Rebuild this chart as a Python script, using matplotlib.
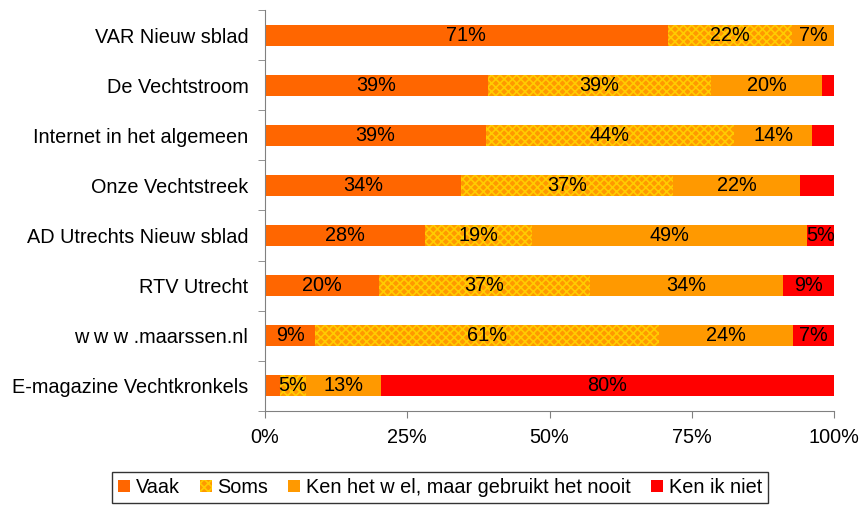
import matplotlib.pyplot as plt
import numpy as np

plt.rcParams['font.family'] = ['Liberation Sans', 'DejaVu Sans']
plt.rcParams['hatch.linewidth'] = 1.2

categories = [
    'VAR Nieuw sblad', 'De Vechtstroom', 'Internet in het algemeen',
    'Onze Vechtstreek', 'AD Utrechts Nieuw sblad', 'RTV Utrecht',
    'w w w .maarssen.nl', 'E-magazine Vechtkronkels'
]

vaak = [70.8, 39.2, 38.8, 34.4, 28.1, 20.0, 8.8, 2.6]
soms = [21.8, 39.2, 43.6, 37.3, 18.8, 37.1, 60.4, 4.6]
kennooit = [7.4, 19.5, 13.8, 22.3, 48.4, 33.9, 23.6, 13.2]
kenniet = [0.0, 2.1, 3.8, 6.0, 4.7, 9.0, 7.2, 79.6]

vaak_lbl = ['71%', '39%', '39%', '34%', '28%', '20%', '9%', '']
soms_lbl = ['22%', '39%', '44%', '37%', '19%', '37%', '61%', '5%']
kennooit_lbl = ['7%', '20%', '14%', '22%', '49%', '34%', '24%', '13%']
kenniet_lbl = ['', '', '', '', '5%', '9%', '7%', '80%']

series = [
    ('Vaak', vaak, vaak_lbl, dict(color='#FF6600')),
    ('Soms', soms, soms_lbl, dict(facecolor='#FF9900', edgecolor='#FFCC00', hatch='xxxx', linewidth=0)),
    ('Ken het w el, maar gebruikt het nooit', kennooit, kennooit_lbl, dict(color='#FF9900')),
    ('Ken ik niet', kenniet, kenniet_lbl, dict(color='#FF0000')),
]

fs = 14.3

fig = plt.figure(figsize=(8.62, 5.16), dpi=100)
ax = fig.add_axes([265 / 862, 1 - 411 / 516, 569 / 862, 401 / 516])

y = np.arange(len(categories))
left = np.zeros(len(categories))
for name, vals, lbls, style in series:
    vals = np.array(vals)
    ax.barh(y, vals, left=left, height=0.42, label=name, **style)
    for yi, (l, v, t) in enumerate(zip(left, vals, lbls)):
        if t:
            ax.text(l + v / 2, yi, t, ha='center', va='center', fontsize=fs, color='black')
    left += vals

ax.set_xlim(0, 100)
ax.set_ylim(len(categories) - 0.5, -0.5)
ax.set_xticks([0, 25, 50, 75, 100])
ax.set_xticklabels(['0%', '25%', '50%', '75%', '100%'], fontsize=fs)
ax.set_yticks(y)
ax.set_yticklabels(categories, fontsize=fs)
ax.tick_params(axis='y', length=0, pad=12)
ax.set_yticks(np.arange(-0.5, len(categories)), minor=True)
ax.tick_params(axis='y', which='minor', length=5, color='#808080')
ax.tick_params(axis='x', length=5, color='#808080', pad=7)
for s in ['top', 'right']:
    ax.spines[s].set_visible(False)
for s in ['left', 'bottom']:
    ax.spines[s].set_color('#808080')

leg = fig.legend(loc='lower center', bbox_to_anchor=(440 / 862, 3 / 516), ncol=4, fontsize=fs,
                 frameon=True, fancybox=False, edgecolor='black', handlelength=0.6,
                 handleheight=0.6, handletextpad=0.3, columnspacing=1.0, borderpad=0.3)
leg.get_frame().set_linewidth(1.0)

fig.savefig('out.png', dpi=100)
